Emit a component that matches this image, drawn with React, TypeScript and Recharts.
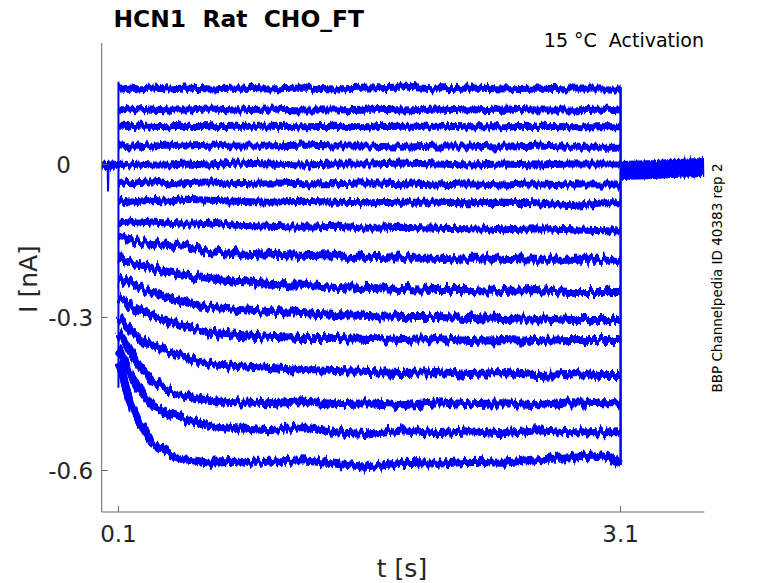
import React from "react";
import { ComposedChart, Line, XAxis, YAxis } from "recharts";

// time points (s) at which each trace is sampled during the step
const T = [0.1, 0.13, 0.17, 0.22, 0.3, 0.4, 0.5, 0.65, 0.8, 1.0, 1.2, 1.4, 1.6, 1.8, 2.0, 2.2, 2.4, 2.6, 2.8, 3.0, 3.1];

// current traces (nA), top to bottom
const trace01 = [0.148, 0.148, 0.150, 0.148, 0.150, 0.148, 0.150, 0.148, 0.150, 0.148, 0.150, 0.148, 0.150, 0.152, 0.148, 0.150, 0.148, 0.150, 0.148, 0.148, 0.148];
const trace02 = [0.109, 0.107, 0.109, 0.107, 0.109, 0.107, 0.107, 0.109, 0.107, 0.109, 0.107, 0.107, 0.109, 0.107, 0.109, 0.107, 0.109, 0.107, 0.107, 0.109, 0.107];
const trace03 = [0.075, 0.075, 0.074, 0.075, 0.075, 0.074, 0.075, 0.074, 0.075, 0.075, 0.074, 0.075, 0.074, 0.075, 0.075, 0.074, 0.074, 0.075, 0.074, 0.074, 0.074];
const trace04 = [0.038, 0.038, 0.036, 0.038, 0.036, 0.038, 0.036, 0.038, 0.036, 0.036, 0.038, 0.036, 0.036, 0.034, 0.036, 0.036, 0.034, 0.036, 0.034, 0.034, 0.034];
const trace05 = [-0.001, 0.001, -0.001, 0.001, -0.001, -0.001, 0.001, -0.001, 0.003, 0.001, -0.001, 0.001, 0.001, 0.003, 0.001, -0.001, 0.001, -0.001, 0.001, 0.001, 0.001];
const trace06 = [-0.038, -0.036, -0.038, -0.036, -0.034, -0.038, -0.036, -0.034, -0.038, -0.036, -0.038, -0.038, -0.036, -0.038, -0.040, -0.038, -0.040, -0.038, -0.040, -0.040, -0.040];
const trace07 = [-0.072, -0.072, -0.074, -0.072, -0.070, -0.072, -0.068, -0.070, -0.072, -0.074, -0.072, -0.074, -0.075, -0.074, -0.074, -0.075, -0.074, -0.075, -0.081, -0.075, -0.075];
const trace08 = [-0.113, -0.111, -0.113, -0.115, -0.113, -0.115, -0.117, -0.115, -0.119, -0.121, -0.123, -0.121, -0.125, -0.123, -0.125, -0.126, -0.128, -0.126, -0.128, -0.130, -0.130];
const trace09 = [-0.142, -0.144, -0.148, -0.152, -0.154, -0.158, -0.162, -0.170, -0.174, -0.177, -0.179, -0.181, -0.181, -0.183, -0.183, -0.185, -0.185, -0.187, -0.187, -0.187, -0.187];
const trace10 = [-0.183, -0.187, -0.191, -0.197, -0.203, -0.211, -0.217, -0.225, -0.230, -0.234, -0.236, -0.240, -0.242, -0.244, -0.246, -0.246, -0.248, -0.246, -0.250, -0.250, -0.250];
const trace11 = [-0.223, -0.226, -0.234, -0.242, -0.250, -0.262, -0.270, -0.281, -0.285, -0.289, -0.291, -0.295, -0.297, -0.299, -0.299, -0.301, -0.303, -0.301, -0.305, -0.305, -0.305];
const trace12 = [-0.260, -0.266, -0.275, -0.285, -0.297, -0.309, -0.317, -0.330, -0.334, -0.338, -0.340, -0.340, -0.342, -0.344, -0.342, -0.346, -0.344, -0.346, -0.344, -0.344, -0.344];
const trace13 = [-0.299, -0.309, -0.324, -0.340, -0.354, -0.368, -0.379, -0.391, -0.395, -0.399, -0.403, -0.405, -0.407, -0.409, -0.407, -0.411, -0.409, -0.413, -0.411, -0.413, -0.413];
const trace14 = [-0.330, -0.344, -0.368, -0.393, -0.423, -0.442, -0.454, -0.464, -0.466, -0.468, -0.464, -0.470, -0.468, -0.472, -0.466, -0.470, -0.468, -0.472, -0.466, -0.468, -0.468];
const trace15 = [-0.360, -0.383, -0.409, -0.438, -0.472, -0.489, -0.501, -0.513, -0.517, -0.521, -0.515, -0.525, -0.529, -0.521, -0.527, -0.523, -0.527, -0.521, -0.525, -0.525, -0.525];
const trace16 = [-0.389, -0.418, -0.468, -0.503, -0.544, -0.566, -0.578, -0.585, -0.583, -0.583, -0.580, -0.587, -0.593, -0.585, -0.587, -0.583, -0.585, -0.578, -0.576, -0.568, -0.589];
const TRACES = [trace01, trace02, trace03, trace04, trace05, trace06, trace07, trace08, trace09, trace10, trace11, trace12, trace13, trace14, trace15, trace16];

// step edges (vertical jumps at pulse on / off): [t, top, bottom]
const onsetEdge = [0.1, 0.162, -0.438];
const offsetEdge = [3.1, 0.152, -0.589];

// holding current before and after the step
const preT = [0, 0.03, 0.06, 0.09, 0.1];
const preV = [-0.001, -0.002, -0.001, -0.002, -0.001];
const spikeT = [0.035, 0.038, 0.041];
const spikeV = [0, -0.053, 0];
const tailT = [3.1, 3.2, 3.3, 3.4, 3.5, 3.6];
const tailV = [-0.012, -0.011, -0.010, -0.008, -0.007, -0.006];

const xTicks = [0.1, 3.1];
const yTicks = [-0.6, -0.3, 0];

const FONT = "DejaVu Sans";
const BLUE = "#0000ff";
const AX = "#666666";
const TXT = "#262626";

const fmt = (v: number) => (v === 0 ? "0" : v.toFixed(1));

// XAxis: tickSize 0, tickMargin 0 -> y is the axis line
const XTick = (props: any) => {
  const { x, y, payload } = props;
  return (
    <g>
      <line x1={x} y1={y} x2={x} y2={y - 6} stroke={AX} strokeWidth={1} />
      <text x={x} y={y + 29.7} textAnchor="middle" fontSize={23} fill={TXT} fontFamily={FONT}>
        {fmt(payload.value)}
      </text>
    </g>
  );
};

const YTick = (props: any) => {
  const { x, y, payload } = props;
  const off = payload.value === 0 ? 30.7 : 8.5;
  return (
    <g>
      <line x1={x} y1={y} x2={x + 6} y2={y} stroke={AX} strokeWidth={1} />
      <text x={x - off} y={y + 8.4} textAnchor="end" fontSize={23} fill={TXT} fontFamily={FONT}>
        {fmt(payload.value)}
      </text>
    </g>
  );
};

const noiseFilter = (id: string, freq: string, seed: number, scale: number) => (
  <filter id={id} filterUnits="userSpaceOnUse" x={0} y={0} width={778} height={583} colorInterpolationFilters="sRGB">
    <feTurbulence type="fractalNoise" baseFrequency={freq} numOctaves={2} seed={seed} result="t" />
    <feColorMatrix in="t" type="matrix" values="0 0 0 0 0.5  1 0 0 0 0  0 0 0 0 0  0 0 0 0 1" result="m" />
    <feDisplacementMap in="SourceGraphic" in2="m" scale={scale} xChannelSelector="R" yChannelSelector="G" />
  </filter>
);

export default function App() {
  const preData = preT.map((t, i) => ({ t, v: preV[i] }));
  const tailData = tailT.map((t, i) => ({ t, v: tailV[i] }));
  const spikeData = spikeT.map((t, i) => ({ t, v: spikeV[i] }));
  const onData = [
    { t: onsetEdge[0], v: onsetEdge[1] },
    { t: onsetEdge[0], v: onsetEdge[2] },
  ];
  const offData = [
    { t: offsetEdge[0], v: offsetEdge[1] },
    { t: offsetEdge[0], v: offsetEdge[2] },
  ];

  return (
    <div style={{ position: "absolute", left: 0, top: 0, width: 778, height: 583, background: "#fff" }}>
      <style>{`.trace-a { filter: url(#noiseA); } .trace-b { filter: url(#noiseB); } .trace-c { filter: url(#noiseC); }`}</style>
      <svg width={0} height={0} style={{ position: "absolute" }}>
        <defs>
          {noiseFilter("noiseA", "0.35 0.03", 3, 9)}
          {noiseFilter("noiseB", "0.3 0.03", 7, 13)}
          {noiseFilter("noiseC", "0.5 0.05", 11, 8)}
        </defs>
      </svg>
      <ComposedChart width={778} height={583} margin={{ top: 43, right: 73.7, bottom: 31, left: 41.7 }}>
        <XAxis
          dataKey="t"
          type="number"
          domain={[0, 3.6]}
          ticks={xTicks}
          allowDataOverflow
          height={40}
          tickSize={0}
          tickMargin={0}
          tickLine={false}
          axisLine={{ stroke: AX, strokeWidth: 1 }}
          tick={<XTick />}
        />
        <YAxis
          type="number"
          domain={[-0.6814, 0.2382]}
          ticks={yTicks}
          allowDataOverflow
          width={60}
          tickSize={0}
          tickMargin={0}
          tickLine={false}
          axisLine={{ stroke: AX, strokeWidth: 1 }}
          tick={<YTick />}
        />
        <Line data={tailData} dataKey="v" type="linear" stroke={BLUE} strokeWidth={14} dot={false} isAnimationActive={false} />
        <Line data={tailData} dataKey="v" type="linear" stroke={BLUE} strokeWidth={19} dot={false} className="trace-c" isAnimationActive={false} />
        <Line data={preData} dataKey="v" type="linear" stroke={BLUE} strokeWidth={5} dot={false} isAnimationActive={false} />
        <Line data={preData} dataKey="v" type="linear" stroke={BLUE} strokeWidth={9} dot={false} className="trace-c" isAnimationActive={false} />
        <Line data={spikeData} dataKey="v" type="linear" stroke={BLUE} strokeWidth={2} dot={false} isAnimationActive={false} />
        <Line data={onData} dataKey="v" type="linear" stroke={BLUE} strokeWidth={2} dot={false} isAnimationActive={false} />
        <Line data={offData} dataKey="v" type="linear" stroke={BLUE} strokeWidth={2.5} dot={false} isAnimationActive={false} />
        {TRACES.map((tr, i) => (
          <Line
            key={i}
            data={T.map((t, j) => ({ t, v: tr[j] }))}
            dataKey="v"
            type="linear"
            stroke={BLUE}
            strokeWidth={i < 8 ? 7 : 8}
            strokeLinejoin="round"
            dot={false}
            className={i < 8 ? "trace-a" : "trace-b"}
            isAnimationActive={false}
          />
        ))}
      </ComposedChart>
      <svg width={778} height={583} style={{ position: "absolute", left: 0, top: 0, pointerEvents: "none" }}>
        <text x={113.5} y={26.7} fontSize={23.4} fontWeight="bold" fill="#000" fontFamily={FONT} style={{ whiteSpace: "pre" }}>
          {"HCN1  Rat  CHO_FT"}
        </text>
        <text x={704} y={47.3} fontSize={19} textAnchor="end" fill="#000" fontFamily={FONT} style={{ whiteSpace: "pre" }}>
          {"15 °C  Activation"}
        </text>
        <text x={722} y={278} fontSize={13.5} textAnchor="middle" fill="#000" fontFamily={FONT} transform="rotate(-90 722 278)">
          BBP Channelpedia ID 40383 rep 2
        </text>
        <text x={36.7} y={279} fontSize={25} textAnchor="middle" fill={TXT} fontFamily={FONT} transform="rotate(-90 36.7 279)">
          I [nA]
        </text>
        <text x={402} y={576.5} fontSize={25} textAnchor="middle" fill={TXT} fontFamily={FONT}>
          t [s]
        </text>
      </svg>
    </div>
  );
}
